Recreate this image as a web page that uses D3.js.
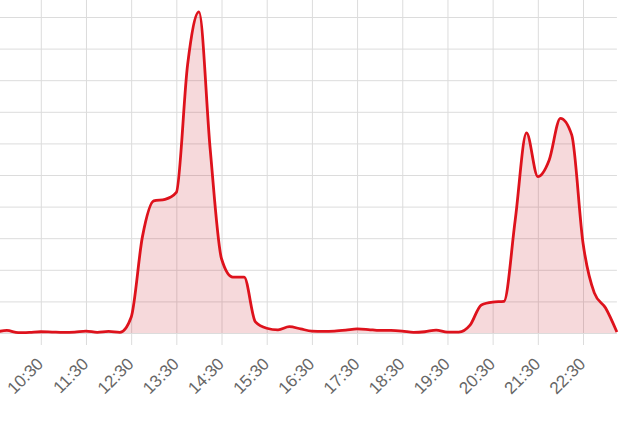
<!DOCTYPE html>
<html>
<head>
<meta charset="utf-8">
<script src="https://cdn.jsdelivr.net/npm/d3@7"></script>
<style>
  html, body { margin: 0; padding: 0; background: #fff; overflow: hidden; }
  svg { display: block; }
</style>
</head>
<body>
<svg id="chart" width="620" height="424"></svg>
<script>
// ---- data ----
const times = [
  "09:30","09:45","10:00","10:15","10:30","10:45","11:00","11:15","11:30","11:45",
  "12:00","12:15","12:30","12:45","13:00","13:15","13:30","13:45","14:00","14:15",
  "14:30","14:45","15:00","15:15","15:30","15:45","16:00","16:15","16:30","16:45",
  "17:00","17:15","17:30","17:45","18:00","18:15","18:30","18:45","19:00","19:15",
  "19:30","19:45","20:00","20:15","20:30","20:45","21:00","21:15","21:30","21:45",
  "22:00","22:15","22:30","22:45","23:00","23:15"
];
const values = [
  0.3, 0.8, 0.1, 0.2, 0.4, 0.3, 0.2, 0.3, 0.6, 0.2,
  0.5, 0.2, 5.0, 30.5, 41.8, 42.3, 44.5, 85.0, 101.6, 58.0,
  23.5, 17.7, 17.7, 3.5, 1.5, 1.0, 2.0, 1.3, 0.6, 0.5,
  0.6, 0.9, 1.3, 1.1, 0.8, 0.8, 0.6, 0.2, 0.4, 0.9,
  0.3, 0.3, 2.5, 8.9, 9.8, 10.0, 35.8, 63.3, 49.5, 54.7,
  67.9, 62.7, 28.5, 12.7, 7.9, 0.3
];
const tickLabels = ["10:30","11:30","12:30","13:30","14:30","15:30","16:30","17:30","18:30","19:30","20:30","21:30","22:30"];
const yTicks = [0,10,20,30,40,50,60,70,80,90,100,110];

// ---- layout ----
const parse = d3.timeParse("%H:%M");
const plotLeft = -4.4, plotRight = 616.9, baseY = 333, topY = -20;
const data = times.map((t, i) => ({ t: parse(t), v: values[i] }));

const x = d3.scaleTime()
  .domain([parse(times[0]), parse(times[times.length - 1])])
  .range([plotLeft, plotRight]);
const y = d3.scaleLinear().domain([0, 100]).range([baseY, 17]);

const svg = d3.select("#chart");

// horizontal grid
svg.append("g")
  .attr("transform", `translate(${plotLeft},0)`)
  .call(d3.axisLeft(y).tickValues(yTicks).tickSize(-(plotRight - plotLeft)).tickFormat(""))
  .call(g => g.select(".domain").remove())
  .call(g => g.selectAll(".tick line").attr("stroke", "#dcdcdc").attr("stroke-width", 1));

// vertical grid (extends slightly below baseline)
svg.append("g")
  .attr("transform", `translate(0,${baseY + 12})`)
  .call(d3.axisBottom(x).tickValues(tickLabels.map(parse)).tickSize(-(baseY + 12 - topY)).tickFormat(""))
  .call(g => g.select(".domain").remove())
  .call(g => g.selectAll(".tick line").attr("stroke", "#dcdcdc").attr("stroke-width", 1));

// area + line
const curve = d3.curveMonotoneX;
svg.append("path")
  .datum(data)
  .attr("fill", "rgba(200,20,30,0.16)")
  .attr("d", d3.area().curve(curve).x(d => x(d.t)).y0(y(0)).y1(d => y(d.v)));

svg.append("path")
  .datum(data)
  .attr("fill", "none")
  .attr("stroke", "#de121c")
  .attr("stroke-width", 2.8)
  .attr("stroke-linejoin", "round")
  .attr("d", d3.line().curve(curve).x(d => x(d.t)).y(d => y(d.v)));

// x labels
svg.append("g")
  .attr("transform", `translate(0,${baseY})`)
  .call(d3.axisBottom(x).tickValues(tickLabels.map(parse)).tickSize(0).tickFormat(d3.timeFormat("%H:%M")))
  .call(g => g.select(".domain").remove())
  .call(g => g.selectAll(".tick text")
    .attr("x", 0).attr("y", 0).attr("dy", null)
    .attr("transform", "translate(3,32) rotate(-45)")
    .attr("text-anchor", "end")
    .attr("fill", "#666")
    .style("font-family", "'Liberation Sans', Arial, sans-serif")
    .style("font-size", "17px"));
</script>
</body>
</html>
